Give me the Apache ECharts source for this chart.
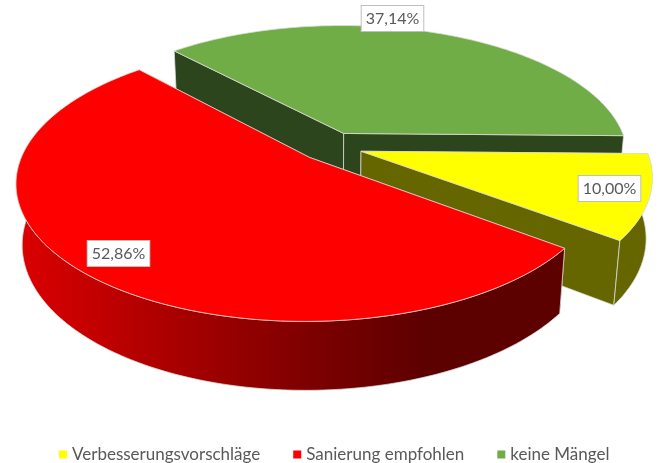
<!DOCTYPE html>
<html>
<head>
<meta charset="utf-8">
<title>Pie</title>
<script src="https://cdn.jsdelivr.net/npm/echarts@6/dist/echarts.min.js"></script>
<style>
  html, body { margin: 0; padding: 0; background: #fff; }
  #chart { width: 658px; height: 463px; }
</style>
</head>
<body>
<div id="chart"></div>
<script>
const categories = ['Verbesserungsvorschläge', 'Sanierung empfohlen', 'keine Mängel'];
const shares = [10.00, 52.86, 37.14];

// slice colours, same order as categories
const topColors = ['#ffff00', '#ff0000', '#70ad47'];
const faceColors = ['#666600', '#5c0000', '#2c451c'];
const drawOrder = [2, 3, 1]; // z of each slice, red sits in front
const labelPos = [[609.5, 188.5], [118.5, 253.5], [392.5, 18.5]];

// projection of the tilted pie
const view = { ox: 331, oy: 146.5, a: 284, b: 131, drop: 60.5, persp: 0.175, perspDrop: 0.019 };
const firstAngle = 91; // degrees clockwise from 12 o'clock
const explode = 0.111;
const edgeColor = '#dedede';
const rimFacing = [88, 275]; // part of the circle whose rim faces the viewer

const total = shares.reduce((s, v) => s + v, 0);
const toRad = (deg) => deg * Math.PI / 180;

function sliceAngles(index) {
  let start = firstAngle;
  for (let i = 0; i < index; i++) {
    start += shares[i] / total * 360;
  }
  return [start, start + shares[index] / total * 360];
}

function project(x, y, down) {
  const w = 1 + view.persp * y + view.perspDrop * down;
  return [
    view.ox + view.a * x / w,
    view.oy + (-view.b * y + view.drop * down) / w,
  ];
}

function buildSlice(index) {
  const [start, end] = sliceAngles(index);
  const mid = toRad((start + end) / 2);
  const cx = explode * Math.sin(mid);
  const cy = explode * Math.cos(mid);
  const rimPoint = (deg, down) => project(cx + Math.sin(toRad(deg)), cy + Math.cos(toRad(deg)), down);
  const apex = (down) => project(cx, cy, down);

  const arc = (from, to, down) => {
    const points = [];
    for (let deg = from; deg < to; deg += 1) {
      points.push(rimPoint(deg, down));
    }
    points.push(rimPoint(to, down));
    return points;
  };

  const face = faceColors[index];
  const rimFill = index === 1
    ? new echarts.graphic.LinearGradient(16, 0, 430, 0, [
        { offset: 0, color: '#dc0000' },
        { offset: 0.72, color: '#7c0000' },
        { offset: 1, color: '#5c0000' },
      ], true)
    : face;
  const line = { stroke: edgeColor, lineWidth: 0.75 };
  const poly = (points, fill) => ({ type: 'polygon', shape: { points }, style: { fill, ...line } });

  const children = [
    poly([apex(0), rimPoint(start, 0), rimPoint(start, 1), apex(1)], face),
    poly([apex(0), rimPoint(end, 0), rimPoint(end, 1), apex(1)], face),
  ];
  const rimFrom = Math.max(start, rimFacing[0]);
  const rimTo = Math.min(end, rimFacing[1]);
  if (rimFrom < rimTo) {
    children.push(poly(arc(rimFrom, rimTo, 0).concat(arc(rimFrom, rimTo, 1).reverse()), rimFill));
  }
  children.push(poly([apex(0)].concat(arc(start, end, 0)), topColors[index]));
  children.push({
    type: 'text',
    x: labelPos[index][0],
    y: labelPos[index][1],
    z2: 10,
    style: {
      text: shares[index].toFixed(2).replace('.', ',') + '%',
      fill: '#595959',
      font: '16px Lato',
      align: 'center',
      verticalAlign: 'middle',
      backgroundColor: '#fff',
      borderColor: '#bfbfbf',
      borderWidth: 1,
      padding: [5, 4, 4, 4],
    },
  });
  return children;
}

const chart = echarts.init(document.getElementById('chart'));
chart.setOption({
  animation: false,
  backgroundColor: '#fff',
  legend: {
    data: categories,
    left: 54,
    top: 441,
    icon: 'rect',
    itemWidth: 8,
    itemHeight: 8,
    itemGap: 33,
    textStyle: { color: '#595959', fontSize: 17, fontFamily: 'Lato' },
  },
  series: categories.map((name, index) => ({
    type: 'custom',
    name,
    z: drawOrder[index],
    coordinateSystem: 'none',
    itemStyle: { color: topColors[index] },
    data: [shares[index]],
    renderItem: () => ({ type: 'group', children: buildSlice(index) }),
  })),
});
</script>
</body>
</html>
